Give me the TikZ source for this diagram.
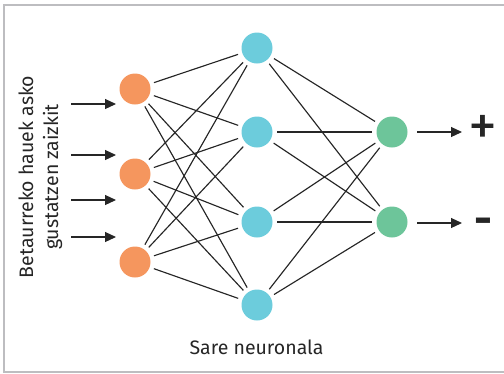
\documentclass[tikz,border=0pt]{standalone}
\usepackage{fontspec}
\setmainfont{Fira Sans}
\usetikzlibrary{arrows.meta}
\definecolor{inputc}{HTML}{F5965E}
\definecolor{hiddenc}{HTML}{6CCCDC}
\definecolor{outputc}{HTML}{6DC59A}
\definecolor{framec}{HTML}{BDBDC0}
\definecolor{inkc}{HTML}{262626}
\tikzset{
  neuron/.style={circle, minimum size=31pt, inner sep=0pt, outer sep=4.5pt, draw=none},
  innode/.style={neuron, fill=inputc},
  hidnode/.style={neuron, fill=hiddenc},
  outnode/.style={neuron, fill=outputc},
  link/.style={draw=inkc, line width=1.15pt},
  feed/.style={draw=inkc, line width=1.2pt, -{Triangle[length=11pt,width=10pt]}},
  label/.style={text=inkc, font=\fontsize{19.5}{25}\selectfont},
  sign/.style={text=inkc, inner sep=0pt, font=\fontsize{58}{58}\selectfont}
}
\begin{document}
\begin{tikzpicture}[x=1pt,y=-1pt]
\useasboundingbox (0,0) rectangle (504,373);
% frame
\draw[framec, line width=2pt] (515,5) -- (4,5) -- (4,371.5) -- (515,371.5);

% neurons
\node[innode] (i1) at (135,89) {};
\node[innode] (i2) at (135,174) {};
\node[innode] (i3) at (135,262) {};
\node[hidnode] (h1) at (257,48) {};
\node[hidnode] (h2) at (257,132) {};
\node[hidnode] (h3) at (257,222) {};
\node[hidnode] (h4) at (257,305) {};
\node[outnode] (o1) at (392,132) {};
\node[outnode] (o2) at (392,222) {};

% connections
\foreach \a in {i1,i2,i3}
  \foreach \b in {h1,h2,h3,h4}
    \draw[link] (\a) -- (\b);
\foreach \a in {h1,h2,h3,h4}
  \foreach \b in {o1,o2}
    \draw[link] (\a) -- (\b);

% input arrows
\foreach \y [count=\k] in {104,155,200,237} {
  \coordinate (s\k) at (71,\y);
  \coordinate (e\k) at (116,\y);
  \draw[feed] (s\k) -- (e\k);
}

% outputs
\node[sign] (plus) at (483,130) {+};
\node[sign, font=\fontsize{44}{44}\selectfont\bfseries] (minus) at (483,226) {-};
\coordinate (p1) at (417,132);
\coordinate (p2) at (462,132);
\coordinate (m1) at (417,223);
\coordinate (m2) at (462,223);
\draw[feed] (p1) -- (p2);
\draw[feed] (m1) -- (m2);

% texts
\node[label, rotate=90, align=center] (inputs) at (40.5,177) {Betaurreko hauek asko\\gustatzen zaizkit};
\node[label] (title) at (256.5,347) {Sare neuronala};
\end{tikzpicture}
\end{document}
